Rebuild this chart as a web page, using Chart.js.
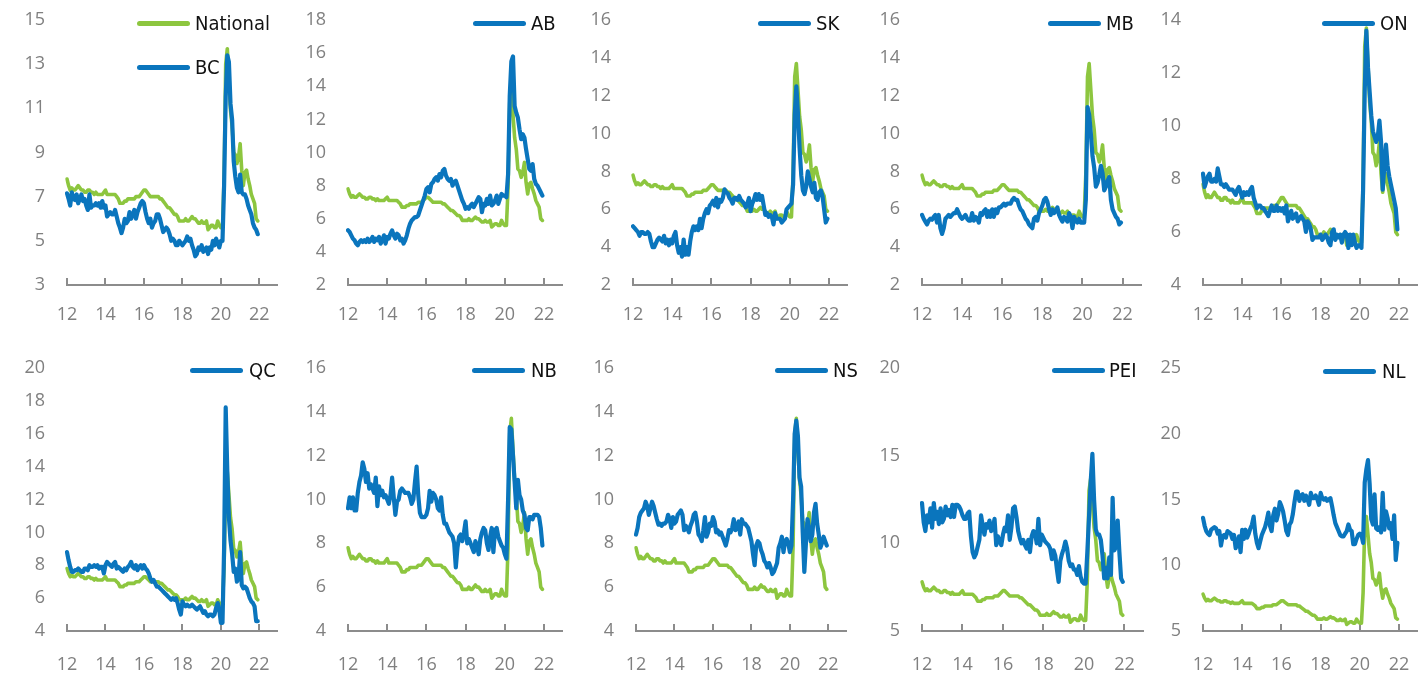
<!DOCTYPE html>
<html><head><meta charset="utf-8">
<script src="https://cdn.jsdelivr.net/npm/chart.js@4.4.1/dist/chart.umd.min.js"></script>
<style>
html,body{margin:0;padding:0;background:#fff;}
#wrap{position:relative;width:1428px;height:675px;overflow:hidden;background:#fff;}
canvas{position:absolute;}
.lg{position:absolute;height:5px;border-radius:3px;}
.lt{position:absolute;font-family:'DejaVu Sans Condensed','DejaVu Sans',sans-serif;font-size:20px;color:#111;line-height:20px;white-space:nowrap;}
</style></head><body><div id="wrap"></div>
<script>
// ---- categories ----
const years = ['12','13','14','15','16','17','18','19','20','21','22'];
const monthNums = ['01','02','03','04','05','06','07','08','09','10','11','12'];
const monthLabels = [];
years.forEach(y => monthNums.forEach(m => monthLabels.push(y + '-' + m)));

// ---- series (monthly, Jan 2012 - Dec 2021) ----
const national = [
 7.8,7.5,7.3,7.4,7.3,7.3,7.4,7.5,7.4,7.3,7.3,7.2,
 7.2,7.3,7.3,7.2,7.2,7.1,7.2,7.1,7.1,7.1,7.1,7.2,
 7.3,7.1,7.1,7.1,7.1,7.1,7.1,7.0,6.9,6.7,6.7,6.7,
 6.8,6.8,6.9,6.9,6.9,6.9,6.9,7.0,7.0,7.0,7.1,7.2,
 7.3,7.3,7.2,7.1,7.0,7.0,7.0,7.0,7.0,7.0,6.9,6.9,
 6.8,6.7,6.6,6.5,6.5,6.4,6.3,6.2,6.2,6.1,5.9,5.9,
 5.9,5.9,6.0,5.9,5.9,6.0,6.1,6.0,6.0,5.9,5.8,5.8,
 5.9,5.8,5.8,5.9,5.5,5.6,5.7,5.7,5.6,5.6,5.9,5.7,
 5.6,5.6,7.9,13.0,13.7,12.3,10.9,10.2,9.0,8.9,8.5,8.8,
 9.4,8.2,7.5,8.1,8.2,7.8,7.5,7.1,6.9,6.7,6.0,5.9];
const bc = [
 7.15,6.9,6.6,7.2,6.9,6.85,7.1,6.7,6.9,7.1,6.8,6.9,
 6.6,6.4,7.1,6.5,6.6,6.6,6.7,6.6,6.7,6.5,6.8,6.5,
 6.6,6.1,6.2,6.3,6.2,6.2,6.4,6.1,5.8,5.6,5.35,5.6,
 6.0,5.8,5.9,6.3,6.0,6.2,6.4,6.0,6.3,6.5,6.7,6.8,
 6.7,6.3,6.0,5.8,6.0,5.6,5.8,5.9,6.2,6.2,6.0,5.7,
 5.4,5.5,5.6,5.5,5.3,5.0,5.1,5.0,4.8,4.8,5.0,4.9,
 4.8,4.9,5.0,5.2,5.0,5.1,4.8,4.6,4.3,4.4,4.7,4.6,
 4.8,4.5,4.6,4.7,4.4,4.7,4.6,5.0,4.8,5.1,4.9,4.7,
 5.0,5.0,7.5,11.5,13.4,13.1,11.2,10.5,8.6,7.9,7.4,7.2,
 8.0,7.2,7.1,7.1,6.9,6.6,6.4,6.2,5.8,5.6,5.5,5.3];
const ab = [
 5.3,5.2,5.0,4.8,4.7,4.5,4.4,4.6,4.7,4.6,4.7,4.6,
 4.8,4.6,4.7,4.9,4.6,4.8,4.7,4.9,4.5,4.7,5.0,4.5,
 4.9,4.8,5.1,5.3,5.0,4.8,5.1,5.0,4.7,4.8,4.5,4.7,
 5.0,5.4,5.7,5.9,6.0,6.1,6.1,6.2,6.5,6.8,7.1,7.4,
 7.8,7.9,7.6,8.1,8.2,8.4,8.5,8.3,8.7,8.5,8.9,9.0,
 8.6,8.4,8.3,8.4,8.0,8.2,8.3,8.0,7.7,7.4,7.1,6.9,
 6.6,6.7,6.6,6.8,6.9,6.7,6.9,7.1,7.3,7.2,6.4,6.9,
 6.8,7.2,6.9,7.4,6.8,6.9,7.1,7.4,6.9,7.2,7.5,7.4,
 7.4,7.3,8.7,13.4,15.5,15.8,12.8,12.4,12.1,11.4,10.8,11.1,
 10.9,10.2,9.6,9.0,8.9,9.3,8.4,8.1,8.0,7.8,7.6,7.4];
const sk = [
 5.1,5.0,4.9,4.8,4.6,4.8,4.8,4.7,4.7,4.8,4.7,4.3,
 4.0,4.0,4.2,4.4,4.5,4.4,4.3,4.6,4.2,4.4,4.1,4.4,
 4.2,4.6,4.8,4.1,3.7,4.0,3.5,4.4,3.6,4.0,3.6,4.3,
 4.8,5.1,4.9,5.1,4.9,5.5,5.0,5.5,5.8,6.0,5.8,6.2,
 6.3,6.45,6.2,6.6,6.1,6.5,6.4,6.6,7.05,6.9,6.85,6.6,
 6.5,6.3,6.6,6.6,6.5,6.7,6.5,6.4,6.3,6.1,6.3,6.6,
 5.9,6.3,6.5,6.8,6.5,6.8,6.5,6.7,6.2,5.7,5.8,5.6,
 5.7,5.6,5.2,5.8,5.5,5.5,5.5,5.3,5.4,5.5,6.0,6.1,
 6.2,6.3,7.3,11.0,12.5,11.0,9.2,7.8,7.0,6.8,7.2,8.0,
 7.6,7.2,6.9,7.4,6.6,6.5,6.9,7.0,6.7,6.0,5.3,5.5];
const mb = [
 5.7,5.5,5.35,5.2,5.4,5.5,5.45,5.6,5.7,5.3,5.7,5.0,
 4.7,5.0,5.5,5.6,5.7,5.6,5.7,5.8,5.8,6.0,5.8,5.6,
 5.5,5.6,5.7,5.5,5.4,5.4,5.8,5.4,5.6,5.5,5.3,5.8,
 5.7,5.9,6.0,5.6,5.9,5.6,6.0,5.6,6.0,5.8,6.1,6.1,
 6.2,6.3,6.2,6.3,6.3,6.3,6.5,6.6,6.5,6.5,6.2,6.0,
 5.9,5.7,5.5,5.4,5.2,5.1,5.0,5.5,5.6,5.4,5.8,6.0,
 6.2,6.5,6.6,6.4,6.0,5.7,6.0,5.8,5.9,6.1,5.7,5.5,
 5.35,5.6,5.5,5.35,5.8,5.6,5.0,5.6,5.4,5.3,5.5,5.3,
 5.3,5.3,6.5,11.4,11.0,10.0,8.8,8.2,7.2,7.4,7.8,8.3,
 7.9,7.0,7.2,7.5,7.7,6.5,6.0,5.8,5.6,5.5,5.2,5.3];
const on = [
 8.2,7.7,7.9,8.1,8.2,7.9,7.9,8.0,7.9,8.4,8.1,7.8,
 7.8,7.7,7.8,7.7,7.6,7.6,7.6,7.5,7.4,7.6,7.7,7.5,
 7.3,7.5,7.4,7.5,7.4,7.6,7.7,7.3,7.1,6.9,7.0,7.0,
 6.9,6.9,6.8,6.7,6.6,6.8,7.0,6.8,6.8,7.0,6.8,6.9,
 6.8,6.9,6.7,7.0,6.4,6.6,6.8,6.5,6.6,6.7,6.4,6.5,
 6.6,6.5,6.4,6.0,6.4,6.3,6.1,5.7,5.8,5.8,5.8,5.8,
 5.9,5.7,5.8,5.9,5.8,5.6,5.5,6.0,6.1,5.7,5.9,5.8,
 5.9,5.6,5.9,6.0,5.9,5.4,5.9,5.5,5.9,5.6,5.4,5.5,
 5.5,5.4,7.6,11.3,13.6,12.2,11.3,10.4,9.8,9.6,9.4,9.6,
 10.2,9.4,7.6,8.5,9.3,8.5,8.1,7.8,7.5,7.2,6.9,6.1];
const qc = [
 8.8,8.3,7.9,7.6,7.6,7.7,7.7,7.8,7.7,7.6,7.6,7.8,
 7.8,7.7,8.0,7.9,7.9,8.0,7.9,8.0,7.8,7.9,7.9,7.5,
 8.0,8.2,8.1,8.0,7.9,8.1,8.2,7.8,7.9,7.8,7.7,7.6,
 7.8,7.7,7.9,8.0,8.2,7.9,7.8,8.0,7.7,7.9,8.0,7.8,
 8.0,7.8,7.7,7.5,7.2,7.0,7.1,6.9,6.7,6.7,6.6,6.5,
 6.4,6.3,6.2,6.1,6.0,5.9,6.0,5.9,6.0,5.7,5.3,5.0,
 5.8,5.6,5.5,5.6,5.5,5.5,5.6,5.5,5.4,5.3,5.4,5.5,
 5.3,5.1,5.2,5.0,4.9,5.0,5.0,4.9,5.0,5.4,5.7,5.3,
 4.5,4.5,9.0,17.6,13.7,10.9,9.5,8.7,7.6,7.8,7.0,7.2,
 8.8,6.8,6.6,6.7,6.6,6.3,6.0,5.8,5.7,5.5,4.6,4.6];
const nb = [
 9.6,10.1,9.6,10.1,9.5,9.5,10.3,10.8,11.1,11.7,11.4,10.8,
 11.2,10.5,10.7,10.5,10.3,11.0,9.7,10.6,10.2,10.4,10.1,10.2,
 10.0,9.8,10.2,11.0,10.1,9.3,9.9,10.0,10.4,10.5,10.4,10.3,
 10.3,10.3,10.1,9.8,10.0,10.8,11.5,10.2,9.4,9.2,9.2,9.2,
 9.3,9.6,10.4,9.9,10.3,10.2,10.0,9.6,9.5,10.1,9.3,8.9,
 8.9,8.7,8.5,8.4,8.3,8.0,6.9,7.8,8.3,8.4,8.1,8.5,
 9.0,8.0,8.2,8.0,7.8,7.6,8.1,7.9,7.5,8.2,8.5,8.7,
 8.6,8.0,7.7,8.3,8.7,7.6,8.6,8.7,8.3,8.1,7.9,7.8,
 7.5,7.3,10.0,13.3,13.2,12.0,10.8,9.6,10.9,10.2,10.0,9.5,
 9.3,8.7,8.6,9.2,9.2,9.1,9.3,9.3,9.3,9.2,8.7,7.9];
const ns = [
 8.4,8.7,9.2,9.4,9.5,9.6,9.9,9.7,9.3,9.6,9.9,9.7,
 9.4,9.1,8.85,8.9,8.8,8.9,8.9,9.0,9.3,9.1,8.7,9.2,
 8.9,9.0,9.3,9.4,9.5,9.3,8.6,8.8,8.7,8.5,8.8,9.0,
 9.3,9.4,9.0,8.4,8.3,8.1,8.6,9.2,8.3,8.5,8.9,8.8,
 9.2,9.0,8.5,8.6,8.4,8.5,8.3,8.1,7.9,8.2,8.6,8.5,
 8.7,9.1,8.6,8.7,9.0,8.4,9.1,8.9,8.9,8.8,8.7,8.4,
 8.1,7.5,7.0,7.9,8.1,8.0,7.7,7.5,7.2,7.1,6.9,7.1,
 6.9,6.6,6.7,6.9,7.1,7.8,8.0,8.3,7.6,8.1,8.2,8.0,
 7.6,7.9,10.0,13.0,13.6,12.9,11.0,10.6,8.5,6.7,8.0,9.1,
 8.7,8.1,8.4,9.4,9.8,8.9,8.4,7.8,8.0,8.3,8.1,7.9];
const pei = [
 12.3,11.2,10.7,11.6,11.2,12.0,10.9,12.3,11.4,11.8,11.1,12.0,
 11.2,11.4,12.1,11.6,11.9,11.5,12.2,11.5,12.2,12.2,12.1,11.9,
 11.6,11.4,11.4,11.7,11.8,10.4,9.5,9.2,9.4,9.8,10.2,11.6,
 11.0,10.5,11.1,10.9,11.3,10.7,10.9,11.4,9.9,10.4,10.1,9.9,
 10.5,10.9,10.7,11.6,10.2,10.9,12.0,12.1,11.5,10.7,10.3,10.0,
 10.2,9.9,9.7,10.2,9.5,10.4,10.7,10.6,10.0,11.4,9.9,10.5,
 10.3,10.1,10.0,9.9,9.7,9.1,9.6,9.3,8.5,7.8,9.0,9.4,
 9.7,10.1,9.7,9.0,8.7,8.8,8.5,8.5,8.2,8.7,8.1,7.8,
 7.7,7.7,9.5,11.5,13.5,15.1,12.5,10.8,10.5,10.5,10.2,9.3,
 8.0,8.6,8.0,9.2,8.2,12.6,9.6,9.8,11.3,9.5,8.0,7.8];
const nl = [
 13.6,13.0,12.6,12.4,12.3,12.7,12.8,12.9,12.8,12.4,12.6,11.5,
 12.2,12.3,12.1,12.6,12.5,12.4,12.0,12.3,11.3,11.6,12.2,11.0,
 12.7,12.0,12.7,12.1,12.4,12.8,13.1,13.7,12.4,11.7,11.3,11.8,
 12.3,12.6,12.9,13.4,14.0,13.0,12.6,13.8,14.3,13.4,13.9,14.8,
 14.5,14.1,13.4,12.6,12.3,13.1,13.3,13.9,14.8,15.6,15.6,14.9,
 15.3,15.4,14.9,15.3,15.0,14.6,15.5,15.1,15.1,15.3,15.0,14.6,
 15.5,15.1,15.0,15.1,14.9,15.0,15.1,14.5,13.8,13.2,12.9,12.6,
 12.3,12.2,12.2,12.4,12.6,13.1,12.7,12.6,11.6,11.6,12.0,12.3,
 12.4,12.3,11.7,16.3,17.3,18.0,16.2,13.5,13.1,15.4,12.8,12.7,
 12.9,12.5,15.5,12.7,14.1,13.6,12.8,13.2,12.0,13.8,10.4,11.7];

// ---- panel names and y-axis ranges ----
const panelNames = ['BC','AB','SK','MB','ON','QC','NB','NS','PEI','NL'];
const panelSeries = [bc, ab, sk, mb, on, qc, nb, ns, pei, nl];
const yMin  = [3, 2, 2, 2, 4, 4, 4, 4, 5, 5];
const yMax  = [15,18,16,16,14,20,16,16,20,25];
const yStep = [2, 2, 2, 2, 2, 2, 2, 2, 5, 5];

// ---- layout / style ----
const GREEN = '#8dc63f', BLUE = '#0a75bd', TICK = '#808080', AXIS = '#8c8c8c';
const TICKFONT = "'Open Sans','Noto Sans','DejaVu Sans',sans-serif";
Chart.defaults.font.family = TICKFONT;
const layout = [
  {cx:0,    cy:0,   cw:300, ch:335, L:67,   R:277,  T:20,  B:285, xp:19},
  {cx:285,  cy:0,   cw:300, ch:335, L:348,  R:562,  T:20,  B:285, xp:19},
  {cx:570,  cy:0,   cw:300, ch:335, L:633,  R:847,  T:20,  B:285, xp:19},
  {cx:855,  cy:0,   cw:300, ch:335, L:922,  R:1141, T:20,  B:285, xp:19},
  {cx:1140, cy:0,   cw:288, ch:335, L:1203, R:1417, T:20,  B:285, xp:19},
  {cx:0,    cy:335, cw:300, ch:340, L:67,   R:277,  T:368, B:631, xp:23},
  {cx:285,  cy:335, cw:300, ch:340, L:348,  R:562,  T:368, B:631, xp:23},
  {cx:570,  cy:335, cw:300, ch:340, L:636,  R:846,  T:368, B:631, xp:23},
  {cx:855,  cy:335, cw:300, ch:340, L:922,  R:1143, T:368, B:631, xp:23},
  {cx:1140, cy:335, cw:288, ch:340, L:1203, R:1417, T:368, B:631, xp:23}
];
const legendPos = [
  {lx:137, y:23,  tx:195},
  {lx:473, y:23,  tx:531},
  {lx:758, y:23,  tx:816},
  {lx:1048,y:23,  tx:1106},
  {lx:1322,y:23,  tx:1380},
  {lx:190, y:370, tx:249},
  {lx:472, y:370, tx:531},
  {lx:775, y:370, tx:833},
  {lx:1052,y:370, tx:1109},
  {lx:1323,y:371, tx:1382}
];

const tickMarks = {
  id: 'tickMarks',
  beforeDatasetsDraw(chart) {
    const sx = chart.scales.x, ctx = chart.ctx, yb = chart.chartArea.bottom;
    ctx.save();
    ctx.strokeStyle = AXIS; ctx.lineWidth = 2;
    sx.ticks.forEach((t, i) => {
      if (t.label === null || t.label === undefined || t.label === '') return;
      const x = Math.round(sx.getPixelForTick(i));
      ctx.beginPath(); ctx.moveTo(x, yb); ctx.lineTo(x, yb - 7); ctx.stroke();
    });
    ctx.restore();
  }
};

const wrap = document.getElementById('wrap');
function addLegend(lx, y, tx, color, text) {
  const l = document.createElement('div');
  l.className = 'lg';
  l.style.left = lx + 'px'; l.style.top = (y - 2.5) + 'px'; l.style.width = '53px'; l.style.background = color;
  wrap.appendChild(l);
  const t = document.createElement('div');
  t.className = 'lt';
  t.style.left = tx + 'px'; t.style.top = (y - 10) + 'px';
  t.textContent = text;
  wrap.appendChild(t);
}

panelNames.forEach((name, p) => {
  const g = layout[p];
  const cv = document.createElement('canvas');
  cv.width = g.cw; cv.height = g.ch;
  cv.style.left = g.cx + 'px'; cv.style.top = g.cy + 'px';
  cv.style.width = g.cw + 'px'; cv.style.height = g.ch + 'px';
  wrap.appendChild(cv);
  new Chart(cv, {
    type: 'line',
    data: {
      labels: monthLabels,
      datasets: [
        {label: 'National', data: national, borderColor: GREEN, backgroundColor: GREEN, borderWidth: 3.6,
         pointRadius: 0, tension: 0, order: 1, borderJoinStyle: 'round', borderCapStyle: 'round'},
        {label: name, data: panelSeries[p], borderColor: BLUE, backgroundColor: BLUE, borderWidth: 4.2,
         pointRadius: 0, tension: 0, order: 0, borderJoinStyle: 'round', borderCapStyle: 'round'}
      ]
    },
    options: {
      responsive: false, animation: false, devicePixelRatio: 1,
      layout: {padding: {top: g.T - g.cy, right: g.cx + g.cw - g.R, left: 0, bottom: 0}},
      plugins: {legend: {display: false}, tooltip: {enabled: false}},
      scales: {
        x: {
          type: 'category',
          grid: {display: true, drawOnChartArea: false, drawTicks: true, tickLength: g.xp, color: 'rgba(0,0,0,0)'},
          border: {display: true, color: AXIS, width: 2},
          ticks: {
            autoSkip: false, maxRotation: 0, minRotation: 0, padding: 0,
            color: TICK, font: {size: 18},
            callback: function(v) {
              const lab = this.getLabelForValue(v);
              const yy = parseInt(lab.slice(0, 2), 10);
              return (lab.slice(3) === '01' && yy % 2 === 0) ? lab.slice(0, 2) : null;
            }
          },
          afterFit: (s) => { s.height = g.cy + g.ch - g.B; }
        },
        y: {
          type: 'linear', min: yMin[p], max: yMax[p],
          grid: {display: true, drawOnChartArea: false, drawTicks: true, tickLength: 22, color: 'rgba(0,0,0,0)'},
          border: {display: false},
          ticks: {stepSize: yStep[p], padding: 0, color: TICK, font: {size: 18}},
          afterFit: (s) => { s.width = g.L - g.cx; }
        }
      }
    },
    plugins: [tickMarks]
  });
  const lp = legendPos[p];
  if (p === 0) {
    addLegend(lp.lx, lp.y, lp.tx, GREEN, 'National');
    addLegend(lp.lx, lp.y + 44, lp.tx, BLUE, name);
  } else {
    addLegend(lp.lx, lp.y, lp.tx, BLUE, name);
  }
});
</script>
</body></html>
